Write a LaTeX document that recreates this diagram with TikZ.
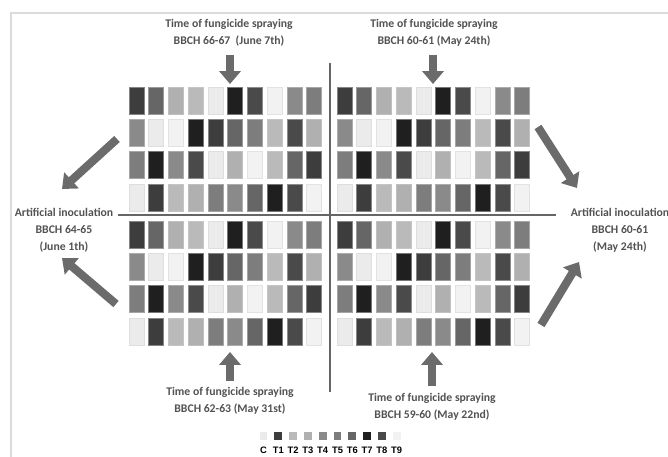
\documentclass[tikz,border=0pt]{standalone}
\usepackage{fontspec}
\setmainfont{Carlito}
\newfontfamily\keyfont{Liberation Sans}
\usetikzlibrary{arrows.meta}
\colorlet{trt0}{black!8}
\colorlet{trt1}{black!76}
\colorlet{trt2}{black!27}
\colorlet{trt3}{black!31}
\colorlet{trt4}{black!46}
\colorlet{trt5}{black!51}
\colorlet{trt6}{black!60}
\colorlet{trt7}{black!88}
\colorlet{trt8}{black!71}
\colorlet{trt9}{black!5}
\tikzset{
  blockarrow/.style={-{Triangle[width=18pt,length=11pt]}, line width=7pt, draw=black!58},
  divider/.style={line width=2.4pt, draw=black!60},
  frameline/.style={line width=1pt, draw=black!14},
  plotcell/.style={line width=0.5pt},
  timing/.style={font=\fontsize{10}{14.5}\selectfont\bfseries, text=black!68, align=center, inner sep=0pt},
  keybox/.style={minimum size=0.23cm, inner sep=0pt, draw=none},
  keylabel/.style={font=\keyfont\fontsize{8}{9}\selectfont\bfseries, inner sep=0pt}
}

\begin{document}
\begin{tikzpicture}[x=0.03cm, y=-0.03cm]
  \useasboundingbox (0,0) rectangle (668,457);
  \draw[frameline] (11,457) -- (11,13) -- (668,13);
  % plots, the same layout in all four quarters
  \foreach \r/\row in {0/{1,6,3,2,0,7,8,9,4,5},1/{4,0,9,7,1,6,5,2,8,3},2/{5,7,4,8,0,3,9,2,6,1},3/{0,1,2,3,5,4,6,7,8,9}}
    \foreach \t [count=\c from 0] in \row
      \foreach \b in {0,1}
        \foreach \h in {0,1}
          \filldraw[plotcell, fill=trt\t, draw=trt\t!85!black!60!white] ({129+208*\b+19.75*\c},{87+134*\h+32.3*\r}) rectangle ++(15,27);
  \coordinate (divT) at (330,63);
  \coordinate (divB) at (330,392);
  \coordinate (divL) at (118,215);
  \coordinate (divR) at (556,215);
  \draw[divider] (divT) -- (divB);
  \draw[divider] (divL) -- (divR);
  \node[timing] (sprayTL) at (229,33) {Time of fungicide spraying\\BBCH 66-67~ (June 7th)};
  \node[timing] (sprayTR) at (434,33) {Time of fungicide spraying\\BBCH 60-61 (May 24th)};
  \node[timing] (sprayBL) at (230,401) {Time of fungicide spraying\\BBCH 62-63 (May 31st)};
  \node[timing] (sprayBR) at (432,407) {Time of fungicide spraying\\BBCH 59-60 (May 22nd)};
  \node[timing] (inocL) at (64,230) {Artificial inoculation\\BBCH 64-65\\(June 1th)};
  \node[timing] (inocR) at (620,230) {Artificial inoculation\\BBCH 60-61\\(May 24th)};
  \coordinate (tipTL) at (230,84);
  \coordinate (tipTR) at (433,84);
  \coordinate (tipBL) at (230,352);
  \coordinate (tipBR) at (432,352);
  \draw[blockarrow] (230,55) -- (tipTL);
  \draw[blockarrow] (433,55) -- (tipTR);
  \draw[blockarrow] (230,381) -- (tipBL);
  \draw[blockarrow] (432,386) -- (tipBR);
  \coordinate (tipUL) at (62,189);
  \coordinate (tipLL) at (62,258);
  \coordinate (tipUR) at (577,188);
  \coordinate (tipLR) at (579,262);
  \draw[blockarrow] (117,139) -- (tipUL);
  \draw[blockarrow] (116,304) -- (tipLL);
  \draw[blockarrow] (538,127) -- (tipUR);
  \draw[blockarrow] (541,325) -- (tipLR);
  % key
  \foreach \t [count=\i from 0] in {C,T1,T2,T3,T4,T5,T6,T7,T8,T9} {
    \node[keybox, fill=trt\i] (key\i) at ({263.5+14.8*\i},436) {};
    \node[keylabel] (keylab\i) at ({263.5+14.8*\i},450) {\t};
  }
\end{tikzpicture}
\end{document}
